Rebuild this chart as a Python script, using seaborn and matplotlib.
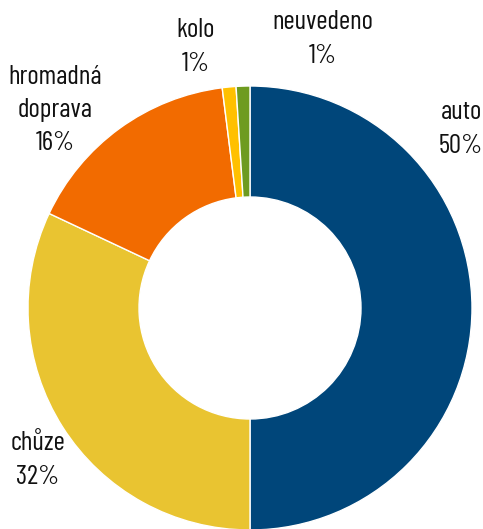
import matplotlib
matplotlib.use("Agg")
import matplotlib.pyplot as plt
import seaborn as sns

# data
categories = ["auto", "chůze", "hromadná\ndoprava", "kolo", "neuvedeno"]
shares = [50, 32, 16, 1, 1]
colors = ["#00467A", "#E9C431", "#F26B00", "#FFC000", "#6E9B20"]

sns.set_theme(style="white")
plt.rcParams["font.family"] = ["Barlow Condensed", "DejaVu Sans"]

fig = plt.figure(figsize=(4.83, 5.29), dpi=100)
ax = fig.add_axes([0, 0, 1, 1])

wedges, _ = ax.pie(shares, colors=colors, startangle=90, counterclock=False,
                   center=(250, 221), radius=222, frame=True,
                   wedgeprops=dict(width=111, edgecolor="white", linewidth=1))
ax.set_xlim(0, 483)
ax.set_ylim(0, 529)
ax.set_aspect("equal")
ax.axis("off")

# label positions (pixel space, y from bottom)
label_pos = [(461, 400), (38, 69), (55, 419), (196, 482), (323, 490)]
for (x, y), cat, val in zip(label_pos, categories, shares):
    ax.text(x, y, f"{cat}\n{val}%", ha="center", va="center",
            fontsize=19.5, linespacing=1.48, color="#111111")

fig.savefig("out.png", dpi=100)
